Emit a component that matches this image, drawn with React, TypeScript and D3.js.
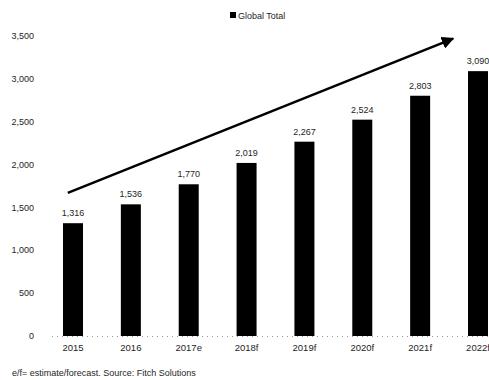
import React from "react";
import * as d3 from "d3";

const categories = ["2015", "2016", "2017e", "2018f", "2019f", "2020f", "2021f", "2022f"];
const values = [1316, 1536, 1770, 2019, 2267, 2524, 2803, 3090];
const valueLabels = ["1,316", "1,536", "1,770", "2,019", "2,267", "2,524", "2,803", "3,090"];
const yTicks = [0, 500, 1000, 1500, 2000, 2500, 3000, 3500];
const seriesName = "Global Total";
const footnote = "e/f= estimate/forecast. Source: Fitch Solutions";
// trend arrow: [category index (fractional), value]
const arrowFrom = [-0.09, 1670];
const arrowTo = [6.57, 3470];

const W = 489;
const H = 380;
const FONT = "'Liberation Sans', Arial, sans-serif";
const TXT = "#1e1e1e";

export default function App() {
  const y = d3.scaleLinear().domain([0, 3500]).range([336, 36]);
  const x = d3.scalePoint<string>().domain(categories).range([73, 478]);
  const step = x.step();
  const xi = (i: number) => (x(categories[0]) as number) + i * step;
  const barW = 20;
  const fmt = d3.format(",");

  const ax1 = xi(arrowFrom[0]);
  const ay1 = y(arrowFrom[1]);
  const ax2 = xi(arrowTo[0]);
  const ay2 = y(arrowTo[1]);

  return (
    <svg
      width={W}
      height={H}
      style={{ position: "absolute", left: 0, top: 0, background: "#fff" }}
      fontFamily={FONT}
    >
      <defs>
        <marker
          id="ah"
          viewBox="0 0 10 10"
          refX="9"
          refY="5"
          markerWidth="5"
          markerHeight="5"
          markerUnits="strokeWidth"
          orient="auto"
        >
          <path d="M0,0 L10,5 L0,10 z" fill="#000" />
        </marker>
      </defs>
      {/* legend */}
      <rect x={230} y={12} width={6} height={6} fill="#000" />
      <text x={238} y={18.5} fontSize={9} fill={TXT}>
        {seriesName}
      </text>
      {/* y tick labels */}
      {yTicks.map((t) => (
        <text key={t} x={34} y={y(t) + 3.2} fontSize={9} fill={TXT} textAnchor="end">
          {fmt(t)}
        </text>
      ))}
      {/* baseline */}
      <line
        x1={52}
        x2={W}
        y1={y(0) + 0.5}
        y2={y(0) + 0.5}
        stroke="#999"
        strokeWidth={1}
        strokeDasharray="1,4"
      />
      {/* bars */}
      {categories.map((c, i) => (
        <g key={c}>
          <rect
            x={(x(c) as number) - barW / 2}
            y={y(values[i])}
            width={barW}
            height={y(0) - y(values[i])}
            fill="#000"
          />
          <text
            x={x(c) as number}
            y={y(values[i]) - 7}
            fontSize={9}
            fill={TXT}
            textAnchor="middle"
          >
            {valueLabels[i]}
          </text>
          <text x={x(c) as number} y={351} fontSize={9.5} fill={TXT} textAnchor="middle">
            {c}
          </text>
        </g>
      ))}
      {/* trend arrow */}
      <line
        x1={ax1}
        y1={ay1}
        x2={ax2}
        y2={ay2}
        stroke="#000"
        strokeWidth={2.5}
        markerEnd="url(#ah)"
      />
      {/* footnote */}
      <text x={12} y={376} fontSize={9} fill={TXT}>
        {footnote}
      </text>
    </svg>
  );
}
